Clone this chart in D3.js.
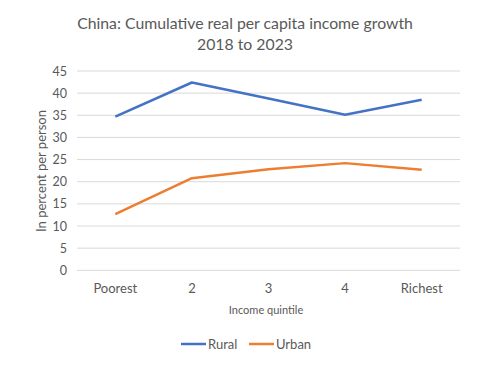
<!DOCTYPE html>
<html><head><meta charset="utf-8">
<script src="https://cdn.jsdelivr.net/npm/d3@7"></script>
<style>body{margin:0;background:#fff;} text{font-family:Lato,"Open Sans",sans-serif;}</style>
</head><body>
<svg id="c" width="500" height="366"></svg>
<script>
const categories = ["Poorest","2","3","4","Richest"];
const rural = [34.7, 42.4, 38.8, 35.1, 38.5];
const urban = [12.7, 20.8, 22.8, 24.2, 22.7];
const yTicks = [0,5,10,15,20,25,30,35,40,45];
const seriesNames = ["Rural","Urban"];
const colors = ["#4472C4","#ED7D31"];

(function(){
const svg = d3.select("#c");
const mL = 77, mR = 460, mT = 71, mB = 270.3;
const x = d3.scaleBand().domain(categories).range([mL,mR]);
const y = d3.scaleLinear().domain([0,45]).range([mB,mT]);

svg.append("g").selectAll("line").data(yTicks).join("line")
  .attr("x1",mL).attr("x2",mR).attr("y1",d=>y(d)).attr("y2",d=>y(d))
  .attr("stroke","#D9D9D9").attr("stroke-width",1);

const ya = svg.append("g").attr("transform",`translate(${mL},0)`)
  .call(d3.axisLeft(y).tickValues(yTicks).tickSize(0).tickPadding(10));
ya.select(".domain").remove();
ya.selectAll("text").attr("font-size",12.5).attr("fill","#595959").style("font-family","Lato");

const xa = svg.append("g").attr("transform",`translate(0,${mB})`)
  .call(d3.axisBottom(x).tickSize(0).tickPadding(13));
xa.select(".domain").remove();
xa.selectAll("text").attr("font-size",13).attr("fill","#595959").style("font-family","Lato");

const line = d3.line().x((d,i)=>x(categories[i])+x.bandwidth()/2).y(d=>y(d));
[rural,urban].forEach((s,k)=>{
  svg.append("path").datum(s).attr("d",line).attr("fill","none")
    .attr("stroke",colors[k]).attr("stroke-width",2.5).attr("stroke-linejoin","round");
});

svg.append("text").attr("x",245).attr("y",29).attr("text-anchor","middle")
  .attr("font-size",15.8).attr("fill","#595959").text("China: Cumulative real per capita income growth");
svg.append("text").attr("x",245).attr("y",50).attr("text-anchor","middle")
  .attr("font-size",15.8).attr("fill","#595959").text("2018 to 2023");

svg.append("text").attr("transform","translate(46,171) rotate(-90)").attr("text-anchor","middle")
  .attr("font-size",13).attr("fill","#595959").text("In percent per person");

svg.append("text").attr("x",266).attr("y",314).attr("text-anchor","middle")
  .attr("font-size",11).attr("fill","#595959").text("Income quintile");

const leg = [{n:seriesNames[0],x:181},{n:seriesNames[1],x:249}];
leg.forEach((d,k)=>{
  svg.append("line").attr("x1",d.x).attr("x2",d.x+25).attr("y1",344).attr("y2",344)
    .attr("stroke",colors[k]).attr("stroke-width",2.5);
  svg.append("text").attr("x",d.x+27).attr("y",348.5).attr("font-size",13)
    .attr("fill","#595959").text(d.n);
});
})();
</script>
</body></html>
